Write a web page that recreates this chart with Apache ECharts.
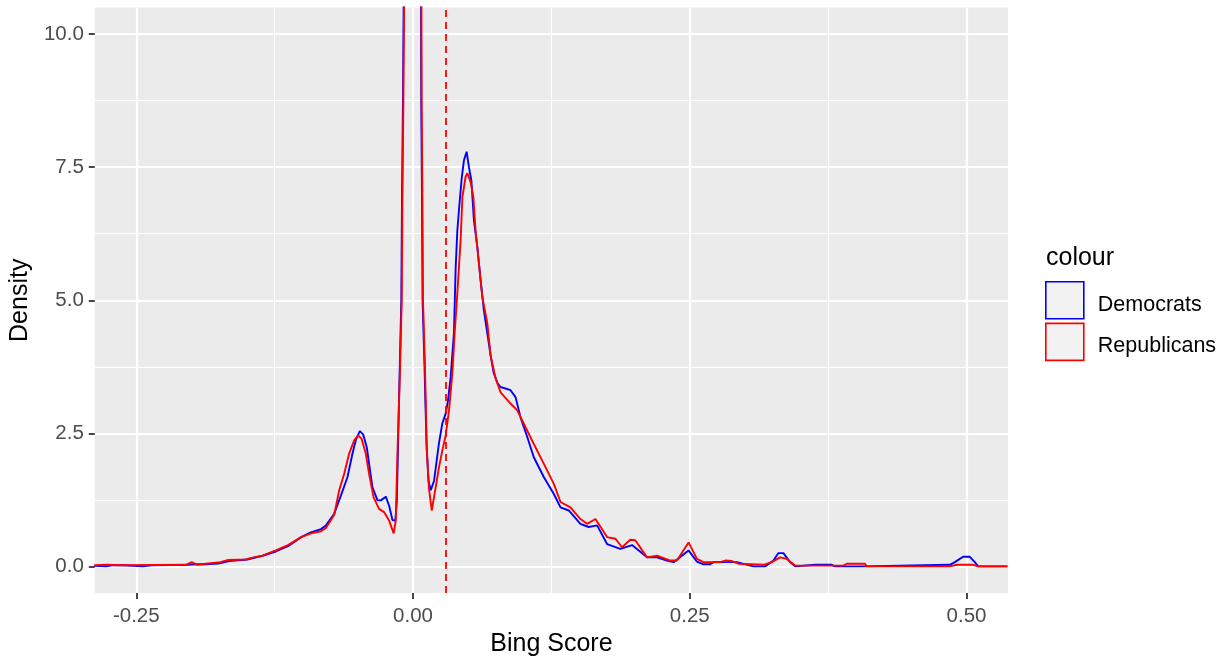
<!DOCTYPE html>
<html><head><meta charset="utf-8">
<script src="https://cdn.jsdelivr.net/npm/echarts@6/dist/echarts.min.js"></script>
<style>html,body{margin:0;padding:0;background:#fff}#c{width:1227px;height:664px}</style>
</head><body><div id="c"></div>
<script>
// ---- data ----
const seriesNames = ['Democrats', 'Republicans'];
const demX = [-0.288,-0.277,-0.272,-0.262,-0.244,-0.236,-0.205,-0.195,-0.187,-0.174,-0.166,-0.150,-0.136,-0.124,-0.113,-0.101,
  -0.0923,-0.0832,-0.0787,-0.0712,-0.0652,-0.0592,-0.0547,-0.0517,-0.0481,-0.0451,-0.0418,-0.0397,-0.0367,-0.0321,-0.0291,-0.0246,-0.0216,-0.0186,
  -0.0160,-0.0147,-0.0138,-0.0128,-0.0120,-0.0106,-0.0100,-0.0091,-0.0085,-0.0064,-0.0044,-0.0024,-0.0004,0.0016,0.0036,0.0056,0.0072,0.0074,0.0081,0.0086,0.0104,0.0111,0.0122,0.0140,0.0160,
  0.0190,0.0234,0.0265,0.0295,0.0316,0.0340,0.0370,0.0385,0.0400,0.0415,0.0440,0.0460,0.0484,0.0505,0.0527,0.0550,0.0581,0.0611,0.0640,0.0674,0.0701,0.0728,0.0764,0.0791,0.0881,0.0926,0.0971,0.1032,0.1091,0.1181,0.1272,0.1332,0.1407,0.1512,0.1587,0.1663,0.1753,0.1873,0.1979,0.2114,0.2204,0.2294,0.2354,0.2489,0.2565,0.2624,0.2685,0.2715,0.2926,0.3075,0.3181,0.3256,0.3301,0.3346,0.3406,0.3452,0.3632,0.3782,0.3812,0.4053,0.4849,0.4895,0.4969,0.5030,0.5075,0.5105,0.537];
const demY = [0.01,0.0,0.02,0.02,0.0,0.02,0.03,0.04,0.04,0.06,0.10,0.13,0.20,0.28,0.38,0.55,
  0.64,0.70,0.77,0.99,1.33,1.68,2.12,2.37,2.54,2.48,2.24,1.93,1.49,1.24,1.24,1.31,1.14,0.87,
  0.86,1.2,2.0,3.0,3.74,5.0,6.88,8.76,10.5,20,32,42,46,42,32,20,10.5,8.76,6.88,5.0,3.74,3.12,2.3,1.6,1.43,
  1.61,2.31,2.69,2.87,3.12,3.56,4.4,5.6,6.3,6.7,7.3,7.63,7.79,7.50,7.25,6.50,6.00,5.37,4.81,4.34,3.96,3.64,3.44,3.37,3.31,3.18,2.80,2.43,2.05,1.68,1.36,1.11,1.05,0.80,0.74,0.77,0.42,0.33,0.40,0.17,0.17,0.11,0.08,0.30,0.09,0.04,0.04,0.08,0.08,0.0,0.0,0.11,0.25,0.25,0.08,0.0,0.03,0.03,0.0,0.0,0.03,0.08,0.18,0.18,0.08,0.0,0.0];
const repX = [-0.288,-0.276,-0.265,-0.205,-0.200,-0.195,-0.187,-0.174,-0.167,-0.151,-0.146,-0.136,-0.124,-0.113,-0.101,
  -0.0923,-0.0832,-0.0787,-0.0712,-0.0667,-0.0622,-0.0577,-0.0532,-0.0496,-0.0465,-0.0427,-0.0397,-0.0357,-0.0307,-0.0262,-0.0216,-0.0175,
  -0.0156,-0.0141,-0.0126,-0.0117,-0.0102,-0.0096,-0.0087,-0.0081,-0.006,-0.004,-0.002,0,0.002,0.004,0.006,0.0076,0.0078,0.0085,0.0090,0.0108,0.0115,0.0124,0.0144,0.0169,
  0.0205,0.0234,0.0265,0.0295,0.0325,0.0355,0.0376,0.0400,0.0430,0.0446,0.0475,0.0491,0.0520,0.0545,0.0565,0.0595,0.0626,0.0671,0.0701,0.0746,0.0791,0.0881,0.0942,0.1001,0.1091,0.1181,0.1272,0.1332,0.1422,0.1512,0.1573,0.1648,0.1753,0.1828,0.1888,0.1963,0.2008,0.2114,0.2204,0.2324,0.2384,0.2489,0.2565,0.2624,0.2775,0.2820,0.2881,0.2940,0.3166,0.3241,0.3316,0.3377,0.3452,0.3887,0.3918,0.4083,0.4098,0.4849,0.4910,0.5060,0.5105,0.537];
const repY = [0.02,0.03,0.02,0.03,0.08,0.03,0.05,0.08,0.12,0.13,0.16,0.20,0.30,0.40,0.55,
  0.62,0.66,0.72,0.97,1.43,1.74,2.12,2.37,2.46,2.40,2.12,1.74,1.30,1.08,1.02,0.86,0.62,
  0.86,2.12,3.12,3.74,5.0,6.88,8.76,10.5,20,32,42,46,42,32,20,10.5,8.76,6.88,5.0,3.74,3.12,2.18,1.46,1.05,
  1.49,1.86,2.18,2.46,2.93,3.62,4.38,5.13,6.13,6.94,7.32,7.39,7.22,6.94,6.31,5.69,5.06,4.57,3.96,3.53,3.27,3.06,2.93,2.68,2.30,1.93,1.55,1.21,1.11,0.89,0.80,0.89,0.55,0.52,0.36,0.50,0.49,0.17,0.20,0.11,0.11,0.45,0.14,0.08,0.08,0.11,0.10,0.05,0.03,0.08,0.17,0.14,0.015,0.015,0.05,0.05,0.0,0.0,0.03,0.03,0.0,0.0];
const meanLineX = [0.031];
const xTickValues = [-0.25, 0, 0.25, 0.5];
const xTickLabels = ['-0.25', '0.00', '0.25', '0.50'];
const xMinorValues = [-0.125, 0.125, 0.375];
const yTickValues = [0, 2.5, 5, 7.5, 10];
const yTickLabels = ['0.0', '2.5', '5.0', '7.5', '10.0'];
const yMinorValues = [1.25, 3.75, 6.25, 8.75];
const xTitle = 'Bing Score';
const yTitle = 'Density';
const legendTitle = 'colour';

// ---- chart ----
const FONT = '"Liberation Sans", Arial, sans-serif';
const colors = ['#0000FF', '#FF0000'];
const pairs = (xs, ys) => xs.map((x, i) => [x, ys[i]]);
const labelOf = (vals, labels) => v => {
  const i = vals.findIndex(t => Math.abs(t - v) < 1e-9);
  return i >= 0 ? labels[i] : '';
};
const XMIN = -0.2875, XMAX = 0.5375, YMIN = -0.5, YMAX = 10.5;

const chart = echarts.init(document.getElementById('c'), null, {renderer: 'canvas'});
chart.setOption({
  animation: false,
  backgroundColor: '#FFFFFF',
  title: {
    text: legendTitle, left: 1046, top: 246, padding: 0,
    textStyle: {fontFamily: FONT, fontSize: 25, fontWeight: 'normal', color: '#000000'}
  },
  legend: {
    orient: 'vertical', left: 1045, top: 281, itemGap: 3, padding: 0,
    itemWidth: 38, itemHeight: 37, selectedMode: false,
    formatter: name => '{t|' + name + '}',
    textStyle: {fontFamily: FONT, fontSize: 21.5, color: '#000000',
      rich: {t: {fontFamily: FONT, fontSize: 21.5, color: '#000000', padding: [9, 0, 0, 9]}}},
    data: seriesNames.map((n, i) => ({
      name: n, icon: 'rect',
      itemStyle: {color: '#F2F2F2', borderColor: colors[i], borderWidth: 1.6},
      lineStyle: {width: 0, opacity: 0}
    }))
  },
  grid: {left: 93, top: 7.5, width: 915, height: 585.5, show: true,
    backgroundColor: '#EBEBEB', borderWidth: 0},
  xAxis: [{
    type: 'value', min: XMIN, max: XMAX, position: 'bottom',
    name: xTitle, nameLocation: 'middle', nameGap: 38,
    nameTextStyle: {fontFamily: FONT, fontSize: 25, color: '#000000'},
    axisLine: {show: false, onZero: false},
    axisTick: {show: true, length: 6, customValues: xTickValues, lineStyle: {color: '#333333', width: 1.8}},
    axisLabel: {show: true, customValues: xTickValues, margin: 13, formatter: labelOf(xTickValues, xTickLabels),
      fontFamily: FONT, fontSize: 20.5, color: '#4D4D4D'},
    splitLine: {show: true, lineStyle: {color: '#FFFFFF', width: 2.2}}
  }, {
    type: 'value', min: XMIN, max: XMAX, position: 'bottom',
    axisLine: {show: false, onZero: false},
    axisTick: {show: false, customValues: xMinorValues},
    axisLabel: {show: false, customValues: xMinorValues},
    splitLine: {show: true, lineStyle: {color: '#FFFFFF', width: 1.1}}
  }],
  yAxis: [{
    type: 'value', min: YMIN, max: YMAX, position: 'left',
    name: yTitle, nameLocation: 'middle', nameGap: 56,
    nameTextStyle: {fontFamily: FONT, fontSize: 25, color: '#000000'},
    axisLine: {show: false, onZero: false},
    axisTick: {show: true, length: 6, customValues: yTickValues, lineStyle: {color: '#333333', width: 1.8}},
    axisLabel: {show: true, customValues: yTickValues, margin: 11, formatter: labelOf(yTickValues, yTickLabels),
      fontFamily: FONT, fontSize: 20.5, color: '#4D4D4D'},
    splitLine: {show: true, lineStyle: {color: '#FFFFFF', width: 2.2}}
  }, {
    type: 'value', min: YMIN, max: YMAX, position: 'left',
    axisLine: {show: false, onZero: false},
    axisTick: {show: false, customValues: yMinorValues},
    axisLabel: {show: false, customValues: yMinorValues},
    splitLine: {show: true, lineStyle: {color: '#FFFFFF', width: 1.1}}
  }],
  series: [{
    name: seriesNames[0], type: 'line', xAxisIndex: 0, yAxisIndex: 0,
    data: pairs(demX, demY), showSymbol: false, symbol: 'none', clip: true,
    lineStyle: {color: colors[0], width: 1.9}, itemStyle: {color: colors[0]}, z: 3
  }, {
    name: seriesNames[1], type: 'line', xAxisIndex: 0, yAxisIndex: 0,
    data: pairs(repX, repY), showSymbol: false, symbol: 'none', clip: true,
    lineStyle: {color: colors[1], width: 1.9}, itemStyle: {color: colors[1]}, z: 4,
    markLine: {
      silent: true, symbol: ['none', 'none'], label: {show: false},
      lineStyle: {color: colors[1], type: [7, 5], width: 1.8},
      data: meanLineX.map(v => ({xAxis: v}))
    }
  }]
});
</script></body></html>
